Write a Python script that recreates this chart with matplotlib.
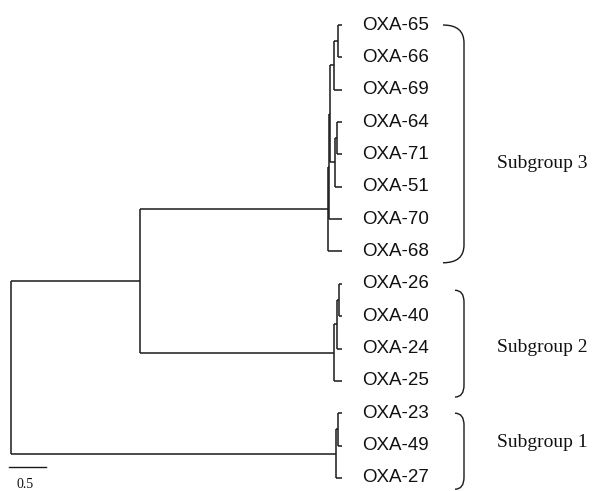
"""
Rectangular dendrogram of OXA beta-lactamase variants with subgroup brackets.
"""

import matplotlib.pyplot as plt
from matplotlib.path import Path
from matplotlib.patches import PathPatch

# leaves, top to bottom, with parent node and branch length
LEAF_NAMES = ["OXA-65", "OXA-66", "OXA-69", "OXA-64", "OXA-71", "OXA-51",
              "OXA-70", "OXA-68", "OXA-26", "OXA-40", "OXA-24", "OXA-25",
              "OXA-23", "OXA-49", "OXA-27"]
LEAF_PARENT = ["a11", "a11", "a1", "a21", "a21", "a2", "x", "sub3",
               "b1", "b1", "b", "sub2", "c1", "c1", "sub1"]
LEAF_BRANCH = [0.054, 0.054, 0.111, 0.060, 0.060, 0.094, 0.170, 0.181,
               0.033, 0.033, 0.063, 0.107, 0.047, 0.047, 0.074]

# internal nodes (parents listed before children)
NODE_IDS = ["root", "n23", "sub3", "x", "w", "a1", "a11", "a2", "a21",
            "sub2", "b", "b1", "sub1", "c1"]
NODE_PARENT = [None, "root", "n23", "sub3", "x", "w", "a1", "w", "a2",
               "n23", "sub2", "b", "root", "sub1"]
NODE_BRANCH = [0.0, 1.727, 2.523, 0.011, 0.013, 0.046, 0.058, 0.063, 0.033,
               2.597, 0.044, 0.029, 4.357, 0.027]

# subgroup brackets, in leaf-row units
GROUP_LABELS = ["Subgroup 3", "Subgroup 2", "Subgroup 1"]
GROUP_TOP = [0.0, 8.2, 12.0]
GROUP_BOTTOM = [7.35, 11.5, 14.35]
GROUP_TEXT_Y = [4.27, 9.98, 12.92]

SCALE_LEN = 0.5

LINE_COLOR = "#1a1a1a"
PX = 1 / 74.7   # tree units per pixel
ROOT_PX = 11    # pixel column of the root


def px2x(p):
    return (p - ROOT_PX) * PX


def layout():
    depth = {}
    for nid, par, bl in zip(NODE_IDS, NODE_PARENT, NODE_BRANCH):
        depth[nid] = bl if par is None else depth[par] + bl
    children = {nid: [] for nid in NODE_IDS}
    for nid, par in zip(NODE_IDS, NODE_PARENT):
        if par is not None:
            children[par].append(nid)
    ypos = {}
    for i, (name, par, bl) in enumerate(zip(LEAF_NAMES, LEAF_PARENT, LEAF_BRANCH)):
        depth[name] = depth[par] + bl
        ypos[name] = i
        children[par].append(name)

    def node_y(nid):
        if nid in ypos:
            return ypos[nid]
        ys = sorted(node_y(c) for c in children[nid])
        ypos[nid] = (ys[0] + ys[-1]) / 2
        return ypos[nid]

    node_y("root")
    return depth, ypos, children


def main():
    depth, ypos, children = layout()

    fig = plt.figure(figsize=(5.93, 4.91), dpi=100)
    ax = fig.add_axes([0, 0, 1, 1])
    ax.set_xlim(px2x(0), px2x(593))
    ax.set_ylim(14.405, -0.773)
    ax.axis("off")

    lw = 1.1
    for nid, kids in children.items():
        x = depth[nid]
        ys = [ypos[k] for k in kids]
        ax.plot([x, x], [min(ys), max(ys)], color=LINE_COLOR, lw=lw,
                solid_capstyle="butt")
        for k in kids:
            ax.plot([x, depth[k]], [ypos[k], ypos[k]], color=LINE_COLOR, lw=lw,
                    solid_capstyle="butt")

    for name in LEAF_NAMES:
        ax.text(depth[name] + 20 * PX, ypos[name], name, fontsize=13.5,
                family="Liberation Sans", va="center", ha="left", color="#111111")

    # brackets
    vx = px2x(464)
    for k, (label, top, bot, ty) in enumerate(
            zip(GROUP_LABELS, GROUP_TOP, GROUP_BOTTOM, GROUP_TEXT_Y)):
        tip = px2x(443 if k == 0 else 455)
        r = 0.55 if k == 0 else 0.37
        verts = [(tip, top), (vx, top), (vx, top + r),
                 (vx, bot - r), (vx, bot), (tip, bot)]
        codes = [Path.MOVETO, Path.CURVE3, Path.CURVE3,
                 Path.LINETO, Path.CURVE3, Path.CURVE3]
        ax.add_patch(PathPatch(Path(verts, codes), fill=False,
                               edgecolor=LINE_COLOR, lw=1.0))
        ax.text(px2x(497), ty, label, fontsize=14, family="Liberation Serif",
                va="center", ha="left", color="#111111")

    # scale bar
    sx = px2x(9)
    ax.plot([sx, sx + SCALE_LEN], [13.67, 13.67], color=LINE_COLOR, lw=1.0)
    ax.text(sx + SCALE_LEN / 2 - 3 * PX, 14.2, f"{SCALE_LEN}", fontsize=10,
            family="Liberation Serif", ha="center", va="center", color="#111111")

    fig.savefig("out.png", dpi=100)


if __name__ == "__main__":
    main()
